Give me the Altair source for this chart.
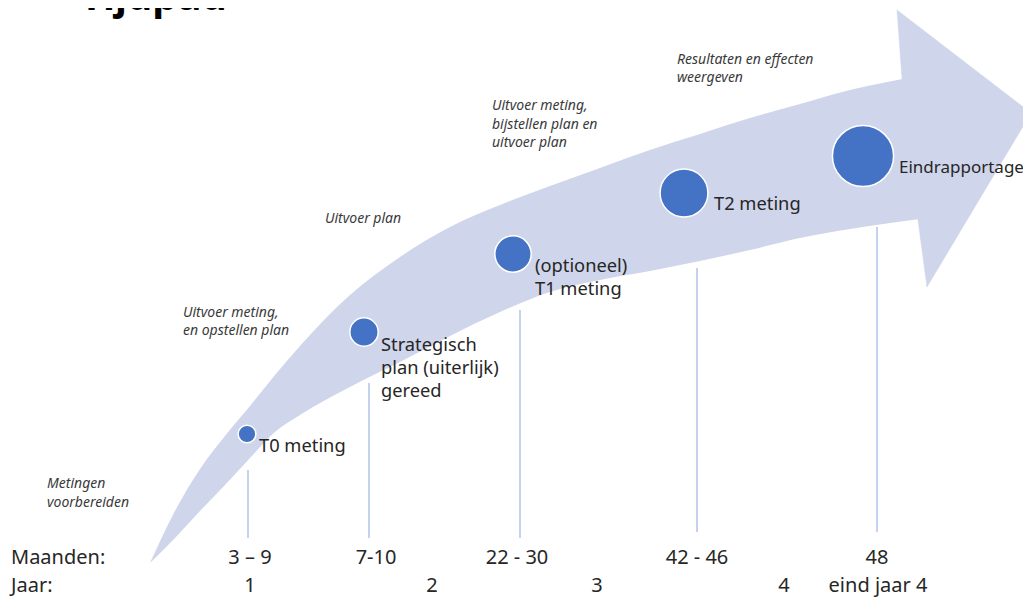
import math
import altair as alt
import pandas as pd

# ---- arrow body: upper and lower edge read at common x positions (page pixels) ----
band_x = [150, 175, 200, 225, 250, 275, 300, 350, 400, 450, 500, 550, 600, 650, 700, 750, 800, 850, 920]
band_top = [563, 511, 469, 436, 406, 375, 346, 295, 257, 227, 205, 186, 168, 150, 134, 118, 104, 90, 76]
band_bottom = [563, 538, 511, 485, 458, 432, 415, 387, 362, 336, 312, 292, 280, 271, 261, 250, 238, 229, 219]

# ---- arrow head outline ----
head_x = [902, 897, 1031, 927, 918]
head_y = [79, 10, 113, 287, 220]

# ---- milestones ----
ms_x = [247, 364, 513, 684, 863]
ms_y = [434, 332, 254, 193, 156]
ms_r = [10, 16, 20.5, 27, 34.5]

ms_label_x = [259, 381, 381, 381, 535, 535, 714]
ms_label_y = [447, 346, 369, 392, 267, 290, 205]
ms_label_t = ["T0 meting", "Strategisch", "plan (uiterlijk)", "gereed",
              "(optioneel)", "T1 meting", "T2 meting"]
end_label_x = [899]
end_label_y = [168]
end_label_t = ["Eindrapportage"]

# ---- italic phase notes ----
note_x = [47, 47, 183, 183, 325, 492, 492, 492, 677, 677]
note_y = [484, 503, 313, 331, 219, 106, 125, 143, 60, 78]
note_t = ["Metingen", "voorbereiden", "Uitvoer meting,", "en opstellen plan",
          "Uitvoer plan", "Uitvoer meting,", "bijstellen plan en", "uitvoer plan",
          "Resultaten en effecten", "weergeven"]

# ---- vertical guide lines ----
vl_x = [248, 369, 520, 697, 877]
vl_top = [470, 383, 310, 268, 227]
vl_bottom = [538, 538, 538, 532, 532]

# ---- bottom rows ----
row_head_t = ["Maanden:", "Jaar:"]
row_head_y = [558, 586]
month_t = ["3 \u2013 9", "7-10", "22 - 30", "42 - 46", "48"]
month_x = [250, 376, 517, 697, 877]
year_t = ["1", "2", "3", "4", "eind jaar 4"]
year_x = [250, 432, 597, 784, 878]

title_t = "Tijdpad"

# ------------------------------------------------------------------
band_df = pd.DataFrame({"x": band_x, "y": band_top, "y2": band_bottom})
head_df_ = pd.DataFrame({"x": head_x, "y": head_y, "i": list(range(len(head_x)))})
ms_df = pd.DataFrame({"x": ms_x, "y": ms_y, "s": [math.pi * r * r for r in ms_r]})
lab_df = pd.DataFrame({"x": ms_label_x, "y": ms_label_y, "t": ms_label_t})
end_df = pd.DataFrame({"x": end_label_x, "y": end_label_y, "t": end_label_t})
note_df = pd.DataFrame({"x": note_x, "y": note_y, "t": note_t})
vl_df = pd.DataFrame({"x": vl_x, "y": vl_top, "y2": vl_bottom})
rowh_df = pd.DataFrame({"x": [11, 11], "y": row_head_y, "t": row_head_t})
month_df = pd.DataFrame({"x": month_x, "y": [row_head_y[0]] * len(month_x), "t": month_t})
year_df = pd.DataFrame({"x": year_x, "y": [row_head_y[1]] * len(year_x), "t": year_t})
title_df = pd.DataFrame({"x": [80], "y": [10], "t": [title_t]})

# page pixels -> chart: chart starts at page (8, 8)
XS = alt.Scale(domain=[8, 1023], nice=False, zero=False)
YS = alt.Scale(domain=[8, 599], nice=False, zero=False, reverse=True)


def X(f="x"):
    return alt.X(f"{f}:Q", scale=XS, axis=None)


def Y(f="y"):
    return alt.Y(f"{f}:Q", scale=YS, axis=None)


FONT = "Noto Sans"
BAND = "#cfd5ea"
INK = "#262626"

band = alt.Chart(band_df).mark_area(
    color=BAND, opacity=1, interpolate="monotone", clip=True
).encode(x=X(), y=Y(), y2="y2:Q")

head = alt.Chart(head_df_).mark_line(
    fill=BAND, stroke=BAND, strokeWidth=0.5, interpolate="linear-closed", clip=True
).encode(x=X(), y=Y(), order="i:Q")

vlines = alt.Chart(vl_df).mark_rule(color="#9db4e4", strokeWidth=1.2).encode(
    x=X(), y=Y(), y2="y2:Q"
)

circles = alt.Chart(ms_df).mark_circle(
    color="#4472c4", opacity=1, stroke="white", strokeWidth=1.5
).encode(x=X(), y=Y(), size=alt.Size("s:Q", scale=None, legend=None))

labels = alt.Chart(lab_df).mark_text(
    align="left", baseline="middle", font=FONT, fontSize=18.3, color=INK
).encode(x=X(), y=Y(), text="t:N")

end_label = alt.Chart(end_df).mark_text(
    align="left", baseline="middle", font=FONT, fontSize=17, color=INK
).encode(x=X(), y=Y(), text="t:N")

notes = alt.Chart(note_df).mark_text(
    align="left", baseline="middle", font=FONT, fontSize=14, fontStyle="italic", color="#3a3a3a"
).encode(x=X(), y=Y(), text="t:N")

heads = alt.Chart(rowh_df).mark_text(
    align="left", baseline="middle", font=FONT, fontSize=20, color=INK
).encode(x=X(), y=Y(), text="t:N")

months = alt.Chart(month_df).mark_text(
    align="center", baseline="middle", font=FONT, fontSize=20, color=INK
).encode(x=X(), y=Y(), text="t:N")

years = alt.Chart(year_df).mark_text(
    align="center", baseline="middle", font=FONT, fontSize=20, color=INK
).encode(x=X(), y=Y(), text="t:N")

title = alt.Chart(title_df).mark_text(
    align="left", baseline="alphabetic", font=FONT, fontSize=40, fontWeight="bold",
    color="#000000", clip=True
).encode(x=X(), y=Y(), text="t:N")

chart = alt.layer(band, head, vlines, circles, labels, end_label, notes, heads, months, years, title).properties(
    width=1015, height=591, padding=0,
    autosize=alt.AutoSizeParams(type="none"),
).configure_view(stroke=None)

chart.save("out.html", embed_options={"renderer": "svg", "actions": False})
